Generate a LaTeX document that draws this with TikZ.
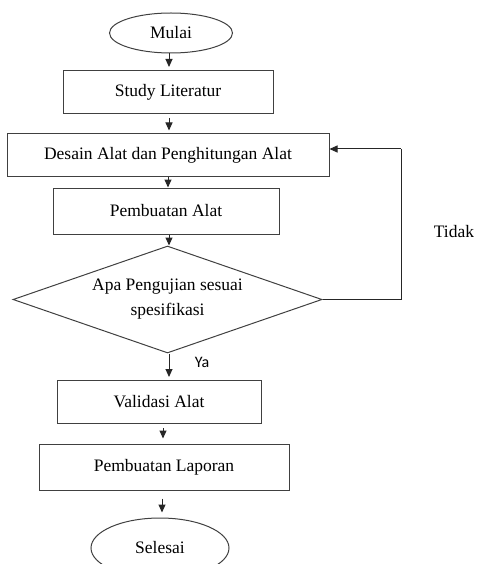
\documentclass[tikz,border=0pt]{standalone}
\usepackage{fontspec}
\setmainfont{Liberation Serif}
\newfontfamily\yafont{Carlito}
\usetikzlibrary{arrows.meta,shapes.geometric}
\tikzset{
	kotak/.style={draw=black!75, line width=1pt, rectangle, inner sep=0pt},
	oval/.style={draw=black!75, line width=1pt, ellipse, inner sep=0pt},
	belah/.style={draw=black!75, line width=1pt, diamond, inner sep=0pt, shape aspect=2.9, align=center},
	panah/.style={draw=black!85, line width=1pt, -{Triangle[length=8pt,width=7pt]}},
	garis/.style={draw=black!85, line width=1pt}
}

\begin{document}
\begin{tikzpicture}[x=1pt, y=-1pt, font=\fontsize{17.5}{25}\selectfont]
		%%%%% START %%%%%
		\useasboundingbox (0, 0) rectangle (476, 564);
		
		\node[oval, minimum width=123, minimum height=40] (mulai) at (171, 33) {Mulai};
		\node[kotak, minimum width=210, minimum height=43] (studi) at (168, 92) {Study Literatur};
		\node[kotak, minimum width=322, minimum height=42] (desain) at (168, 155) {Desain Alat dan Penghitungan Alat};
		\node[kotak, minimum width=226, minimum height=46] (pembuatan) at (166, 211) {Pembuatan Alat};
		\node[belah, minimum width=309, minimum height=107] (uji) at (167.5, 299.5) {Apa Pengujian sesuai\\spesifikasi};
		\node[kotak, minimum width=204, minimum height=43] (validasi) at (159, 402) {Validasi Alat};
		\node[kotak, minimum width=250, minimum height=46] (laporan) at (164, 467) {Pembuatan Laporan};
		\node[oval, minimum width=138, minimum height=60] (selesai) at (160, 548) {Selesai};
		
		\node (tidak) at (454, 232) {Tidak};
		\node[font=\yafont\fontsize{16}{18}\selectfont] (ya) at (202, 362) {Ya};
		\coordinate (balik) at (401, 149);
		
		% alur utama
		\draw[panah, shorten >=3pt] (mulai.south -| 169, 0) -- (studi.north -| 169, 0);
		\draw[panah, shorten <=4pt, shorten >=3pt] (studi.south -| 169, 0) -- (desain.north -| 169, 0);
		\draw[panah] (desain.south -| 168, 0) -- (pembuatan.north -| 168, 0);
		\draw[panah] (pembuatan.south -| 169, 0) -- (uji.north -| 169, 0);
		\draw[panah, shorten >=3pt] (uji.south -| 169, 0) -- (validasi.north -| 169, 0);
		\draw[panah, shorten <=4pt, shorten >=5pt] (validasi.south -| 163, 0) -- (laporan.north -| 163, 0);
		\draw[panah, shorten <=8pt, shorten >=5pt] (laporan.south -| 162, 0) -- (selesai.north -| 162, 0);
		
		% kembali jika tidak sesuai
		\draw[garis] (uji.east) -| (balik);
		\draw[panah] (balik) -- (balik -| desain.east);
		
		%%%%% END %%%%%
	\end{tikzpicture}
\end{document}
